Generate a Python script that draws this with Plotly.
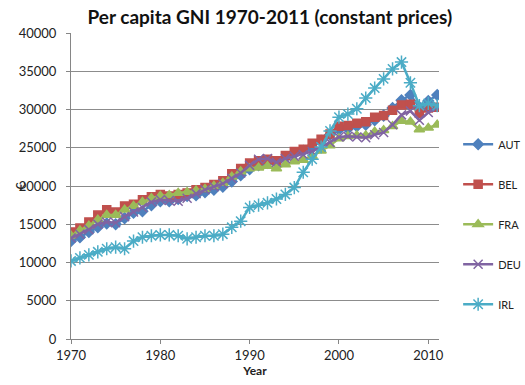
import plotly.graph_objects as go

years = list(range(1970, 2012))

aut = [12800, 13300, 14000, 14600, 15100, 15000, 15800, 16500, 16700, 17500,
       18000, 18000, 18300, 18700, 18800, 19200, 19500, 19900, 20600, 21400,
       22200, 22700, 23000, 23100, 23700, 24200, 24600, 25000, 25900, 26700,
       27400, 27500, 27800, 28000, 28600, 29200, 30200, 31200, 31900, 30300,
       31100, 31900]

bel = [14000, 14500, 15300, 16200, 16900, 16600, 17400, 17600, 18200, 18600,
       18900, 18700, 18900, 19100, 19500, 19800, 20200, 20700, 21600, 22300,
       23000, 23300, 23500, 23300, 24000, 24500, 24800, 25600, 26100, 26800,
       27800, 27900, 28200, 28400, 29000, 29200, 29900, 30600, 30700, 29500,
       30200, 30300]

fra = [13500, 14200, 14800, 15600, 16200, 16200, 16900, 17400, 17900, 18400,
       18700, 18800, 19100, 19200, 19400, 19600, 20000, 20400, 21200, 21900,
       22300, 22400, 22600, 22300, 22800, 23200, 23400, 23900, 24600, 25300,
       26200, 26500, 26600, 26600, 27100, 27300, 27800, 28500, 28400, 27400,
       27600, 28000]

deu = [13200, 13700, 14300, 15000, 15300, 15200, 16000, 16600, 17200, 17900,
       18200, 18100, 18000, 18400, 19000, 19500, 19900, 20300, 21000, 21700,
       22700, 23500, 23600, 23100, 23600, 23900, 24100, 24500, 25100, 25700,
       26400, 26500, 26400, 26300, 26700, 27000, 28000, 29300, 29800, 28600,
       29600, 30300]

irl = [10200, 10600, 11000, 11400, 11800, 12000, 11800, 12800, 13300, 13500,
       13600, 13600, 13500, 13100, 13300, 13500, 13500, 13700, 14600, 15400,
       17200, 17500, 17800, 18300, 18900, 19800, 21800, 23500, 25100, 27200,
       29000, 29400, 30100, 31500, 32800, 34000, 35300, 36200, 33500, 30500,
       30800, 30500]

series = [
    ("AUT", aut, "#4F81BD", "diamond", 8),
    ("BEL", bel, "#C0504D", "square", 8),
    ("FRA", fra, "#9BBB59", "triangle-up", 9),
    ("DEU", deu, "#8064A2", "x-thin-open", 9),
    ("IRL", irl, "#4BACC6", "asterisk-open", 11),
]

fig = go.Figure()
for name, vals, color, symbol, size in series:
    fig.add_trace(go.Scatter(
        x=years, y=vals, name=name, mode="lines+markers",
        legendgroup=name,
        line=dict(color=color, width=2.5),
        marker=dict(symbol=symbol, size=size, color=color,
                    line=dict(color=color, width=1.5)),
    ))

font_family = "Lato, Open Sans, sans-serif"
axis_font = dict(family=font_family, size=13, color="#222222")

fig.update_layout(
    width=525, height=385,
    margin=dict(l=71, r=86, t=33, b=46, autoexpand=False),
    paper_bgcolor="white", plot_bgcolor="white",
    title=dict(text="<b>Per capita GNI 1970-2011 (constant prices)</b>",
               x=0.514, xanchor="center", y=0.955, yanchor="middle",
               font=dict(family=font_family, size=19, color="#111111")),
    xaxis=dict(range=[1970, 2011.2], tickvals=[1970, 1980, 1990, 2000, 2010],
               showgrid=False, showline=True, linecolor="#868686", linewidth=1,
               ticks="outside", ticklen=4, tickcolor="#868686",
               tickfont=axis_font, zeroline=False,
               title=dict(text="<b>Year</b>", standoff=1,
                          font=dict(family=font_family, size=12, color="#222222"))),
    yaxis=dict(range=[0, 40000], dtick=5000, showgrid=True, gridcolor="#8c8c8c",
               gridwidth=1, showline=True, linecolor="#868686", linewidth=1,
               ticks="outside", ticklen=4, tickcolor="#868686",
               ticklabelstandoff=7,
               tickfont=axis_font, zeroline=False, tickformat="d"),
    legend=dict(x=1.052, xanchor="left", y=0.375, yanchor="middle",
                tracegroupgap=21, font=dict(family=font_family, size=11, color="#222222"),
                bgcolor="rgba(0,0,0,0)", itemwidth=30),
    showlegend=True,
)

# y-axis unit, drawn rotated beside the tick labels
fig.add_annotation(text="€", x=-0.136, y=0.5, xref="paper", yref="paper",
                   xanchor="center", yanchor="middle",
                   showarrow=False, textangle=-90,
                   font=dict(family=font_family, size=13, color="#222222"))

fig.write_html("out.html")
